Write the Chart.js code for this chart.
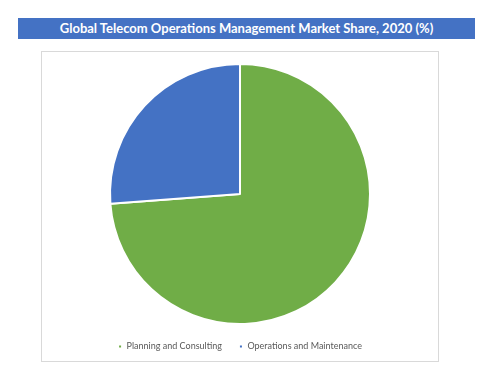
<!DOCTYPE html>
<html>
<head>
<meta charset="utf-8">
<script src="https://cdn.jsdelivr.net/npm/chart.js@4.4.0/dist/chart.umd.min.js"></script>
<style>
  body { margin: 0; background: #fff; }
  #title {
    position: absolute; left: 18px; top: 18px; width: 457px; height: 21px;
    background: #4472C4; color: #fff; font: bold 13px Lato, sans-serif;
    text-align: center; line-height: 21px;
  }
  #box {
    position: absolute; left: 41px; top: 51px; width: 396px; height: 309px;
    border: 1px solid #d9d9d9;
  }
</style>
</head>
<body>
<div id="title">Global Telecom Operations Management Market Share, 2020 (%)</div>
<div id="box"><canvas id="myChart"></canvas></div>
<script>
let segments = ['Planning and Consulting', 'Operations and Maintenance'];
let shares = [73.8, 26.2];
let colors = ['#70AD47', '#4472C4'];

// keep the legend strip short so the pie gets the room
let legendHeight = {
    id: 'legendHeight',
    afterInit(chart) {
        let fit = chart.legend.fit;
        chart.legend.fit = function () {
            fit.call(this);
            this.height = 36;
        };
    }
};

let ctx = document.getElementById('myChart').getContext('2d');
let pie = new Chart(ctx, {
    type: 'pie',
    data: {
        labels: segments,
        datasets: [{
            data: shares,
            backgroundColor: colors,
            borderColor: '#ffffff',
            borderWidth: 2
        }]
    },
    options: {
        responsive: true,
        maintainAspectRatio: false,
        animation: false,
        layout: { padding: { top: 11, bottom: 0 } },
        plugins: {
            legend: {
                position: 'bottom',
                labels: {
                    boxWidth: 4,
                    boxHeight: 4,
                    padding: 17,
                    color: '#595959',
                    font: { family: 'Lato', size: 9 }
                }
            },
            tooltip: { enabled: false }
        }
    },
    plugins: [legendHeight]
});
</script>
</body>
</html>
